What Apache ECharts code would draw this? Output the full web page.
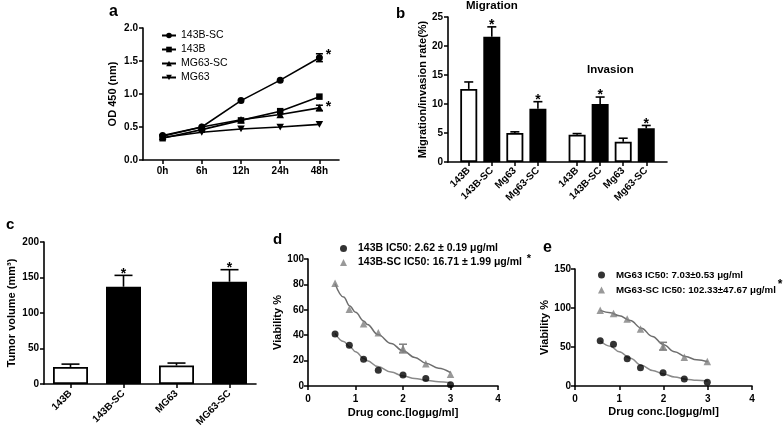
<!DOCTYPE html>
<html><head><meta charset="utf-8">
<script src="https://cdn.jsdelivr.net/npm/echarts@6/dist/echarts.min.js"></script>
<style>html,body{margin:0;padding:0;background:#fff}#c{width:784px;height:433px}</style>
</head><body><div id="c"></div>
<script>
// ---------- Panel a : proliferation (OD 450) ----------
const aTimes = ['0h', '6h', '12h', '24h', '48h'];
const aSeriesNames = ['143B-SC', '143B', 'MG63-SC', 'MG63'];
const a143BSC = [0.37, 0.50, 0.90, 1.21, 1.55];
const a143B = [0.33, 0.46, 0.60, 0.74, 0.96];
const aMG63SC = [0.36, 0.50, 0.61, 0.69, 0.79];
const aMG63 = [0.34, 0.42, 0.47, 0.50, 0.54];
const a143BSCErr = [0, 0, 0, 0, 0.06];
const aMG63SCErr = [0, 0, 0, 0, 0.04];
const a143BSCStar = [false, false, false, false, true];
const aMG63SCStar = [false, false, false, false, true];
const aYTicks = ['0.0', '0.5', '1.0', '1.5', '2.0'];

// ---------- Panel b : migration / invasion ----------
const bGroups = ['Migration', 'Invasion'];
const bCells = ['143B', '143B-SC', 'Mg63', 'Mg63-SC'];
const bMigration = [12.6, 21.6, 5.0, 9.2];
const bMigrationErr = [1.2, 1.7, 0.2, 1.2];
const bInvasion = [4.7, 10.0, 3.5, 5.8];
const bInvasionErr = [0.2, 1.2, 0.6, 0.5];
const bStar = [false, true, false, true];
const bFilled = [false, true, false, true];

// ---------- Panel c : tumor volume ----------
const cCats = ['143B', '143B-SC', 'MG63', 'MG63-SC'];
const cValues = [24, 137, 26, 144];
const cErr = [4, 16, 3.5, 17];
const cStar = [false, true, false, true];
const cFilled = [false, true, false, true];

// ---------- Panel d : 143B dose response ----------
const dLogConc = [0.57, 0.87, 1.17, 1.48, 2.0, 2.48, 3.0];
const d143B = [41, 32, 21, 12.5, 8.6, 6, 1];
const d143BSC = [81, 60.5, 49, 42, 29.5, 17.5, 9.3];
const d143BSCErr = [0, 0, 0, 0, 3.4, 0, 0];
const dFitX = [0.57, 0.75, 0.88, 1.0, 1.18, 1.25, 1.47, 1.75, 2.0, 2.25, 2.48, 2.75, 3.0];
const d143BFit = [41.4, 35, 31, 27, 21.6, 19.8, 15.3, 11, 7.9, 6, 4.5, 3.4, 2.6];
const d143BSCFit = [80.5, 70, 63, 58, 51, 48.5, 40.5, 33.5, 27.7, 22.5, 18, 14, 10.5];
const dNames = ['143B IC50: 2.62 \u00b1 0.19 \u03bcg/ml', '143B-SC IC50: 16.71 \u00b1 1.99 \u03bcg/ml'];

// ---------- Panel e : MG63 dose response ----------
const eLogConc = [0.57, 0.87, 1.18, 1.48, 1.99, 2.47, 2.99];
const eMG63 = [58, 53.5, 35, 23.5, 17, 9, 4.7];
const eMG63SC = [97, 93, 86, 73, 51, 37, 31.3];
const eMG63SCErr = [0, 0, 0, 0, 5, 0, 0];
const eFitX = [0.57, 0.8, 1.0, 1.25, 1.5, 1.75, 2.0, 2.25, 2.5, 2.75, 3.0];
const eMG63Fit = [58, 51, 44, 35.5, 26.5, 20, 15.5, 11.5, 8.8, 7.3, 6.5];
const eMG63SCFit = [97, 94, 90, 84, 74, 63.5, 53, 44, 37.7, 33.5, 31];
const eNames = ['MG63 IC50: 7.03\u00b10.53 \u03bcg/ml', 'MG63-SC IC50: 102.33\u00b147.67 \u03bcg/ml'];

// ---------- styling ----------
const FONT = '"Liberation Sans", Arial, Helvetica, sans-serif';
const BLACK = '#000';
const GRAY = '#7f7f7f';

function merge(a, b) {
  const o = Object.assign({}, a);
  for (const k in b) {
    if (b[k] && typeof b[k] === 'object' && !Array.isArray(b[k]) && a[k] && typeof a[k] === 'object') o[k] = merge(a[k], b[k]);
    else o[k] = b[k];
  }
  return o;
}
const axisBase = {
  axisLine: { show: true, onZero: false, lineStyle: { color: BLACK, width: 1.6 } },
  axisTick: { show: true, length: 4, lineStyle: { color: BLACK, width: 1.5 } },
  axisLabel: { color: BLACK, fontFamily: FONT, fontWeight: 'bold', fontSize: 10 },
  splitLine: { show: false },
  nameTextStyle: { color: BLACK, fontFamily: FONT, fontWeight: 'bold', fontSize: 11 }
};
const ax = o => merge(axisBase, o);

function errRender(opt) {
  return function (params, api) {
    const x = api.value(0), lo = api.value(1), hi = api.value(2), star = api.value(3);
    const pHi = api.coord([x, hi]);
    const pLo = api.coord([x, lo]);
    const st = { stroke: opt.color, lineWidth: opt.lw };
    const ch = [];
    if (hi > lo) {
      ch.push({ type: 'line', shape: { x1: pHi[0], y1: pHi[1], x2: pLo[0], y2: pLo[1] }, style: st });
      ch.push({ type: 'line', shape: { x1: pHi[0] - opt.cap, y1: pHi[1], x2: pHi[0] + opt.cap, y2: pHi[1] }, style: st });
      if (opt.bothCaps) ch.push({ type: 'line', shape: { x1: pLo[0] - opt.cap, y1: pLo[1], x2: pLo[0] + opt.cap, y2: pLo[1] }, style: st });
    }
    if (star) {
      ch.push({ type: 'text', x: pHi[0] + opt.starDx, y: pHi[1] + opt.starDy,
        style: { text: '*', fill: BLACK, font: 'bold 14px ' + FONT, align: 'center', verticalAlign: 'middle' } });
    }
    return { type: 'group', children: ch };
  };
}

// a: series
const aVals = [a143BSC, a143B, aMG63SC, aMG63];
const aSymbols = ['circle', 'rect', 'triangle', 'path://M0,0L10,0L5,9Z'];
const aSizes = [7, 6.5, 7.5, 7.5];
const aSeries = aVals.map((v, i) => ({
  type: 'line', name: aSeriesNames[i], xAxisIndex: 0, yAxisIndex: 0, data: v,
  symbol: aSymbols[i], symbolSize: aSizes[i], symbolKeepAspect: true, showSymbol: true,
  lineStyle: { color: BLACK, width: 1.6 }, itemStyle: { color: BLACK }, z: 3
}));
const aErrData = [];
[[a143BSC, a143BSCErr, a143BSCStar], [aMG63SC, aMG63SCErr, aMG63SCStar]].forEach(([v, e, s]) => {
  v.forEach((y, i) => { if (e[i] > 0 || s[i]) aErrData.push([i, y - e[i], y + e[i], s[i] ? 1 : 0]); });
});

// b: positions built from group / cell indices
const bGapUnits = 0.7;
const bPos = [], bVal = [], bErrData = [], bLabelOf = [];
[[bMigration, bMigrationErr], [bInvasion, bInvasionErr]].forEach(([vals, errs], g) => {
  vals.forEach((v, i) => {
    const p = g * (bCells.length + bGapUnits) + i + 1;
    bPos.push(p);
    bLabelOf.push(bCells[i]);
    bVal.push({ value: [p, v], itemStyle: { color: bFilled[i] ? BLACK : '#fff' } });
    bErrData.push([p, v, v + errs[i], bStar[i] ? 1 : 0]);
  });
});

const curveOpts = { smooth: 0.4, smoothMonotone: 'x', showSymbol: false, silent: true, z: 2 };

const option = {
  animation: false,
  backgroundColor: '#fff',
  textStyle: { fontFamily: FONT },
  grid: [
    { left: 143, top: 28, width: 196, height: 132 },
    { left: 448, top: 17, width: 219, height: 145 },
    { left: 44, top: 242, width: 212, height: 142 },
    { left: 308, top: 259, width: 190, height: 127 },
    { left: 575, top: 269, width: 177, height: 117 }
  ],
  xAxis: [
    ax({ type: 'category', gridIndex: 0, data: aTimes, boundaryGap: true,
      axisTick: { alignWithLabel: true }, axisLabel: { margin: 6 } }),
    ax({ type: 'value', gridIndex: 1, min: 0.1, max: 9.6,
      axisTick: { customValues: bPos },
      axisLabel: { customValues: bPos, rotate: 45, margin: 7,
        formatter: v => { let k = 0; bPos.forEach((p, i) => { if (Math.abs(p - v) < Math.abs(bPos[k] - v)) k = i; }); return bLabelOf[k]; } } }),
    ax({ type: 'category', gridIndex: 2, data: cCats, boundaryGap: true,
      axisTick: { alignWithLabel: true }, axisLabel: { rotate: 45, margin: 8 } }),
    ax({ type: 'value', gridIndex: 3, min: 0, max: 4, interval: 1,
      name: 'Drug conc.[log\u03bcg/ml]', nameLocation: 'middle', nameGap: 21 }),
    ax({ type: 'value', gridIndex: 4, min: 0, max: 4, interval: 1,
      name: 'Drug conc.[log\u03bcg/ml]', nameLocation: 'middle', nameGap: 20 })
  ],
  yAxis: [
    ax({ type: 'value', gridIndex: 0, min: 0, max: 2, interval: 0.5,
      axisLabel: { formatter: v => aYTicks[Math.round(v / 0.5)], margin: 5 },
      name: 'OD 450 (nm)', nameLocation: 'middle', nameGap: 25 }),
    ax({ type: 'value', gridIndex: 1, min: 0, max: 25, interval: 5, axisLabel: { margin: 5 },
      name: 'Migration/invasion rate(%)', nameLocation: 'middle', nameGap: 20 }),
    ax({ type: 'value', gridIndex: 2, min: 0, max: 200, interval: 50, axisLabel: { margin: 5 },
      name: 'Tumor volume (mm\u00b3)', nameLocation: 'middle', nameGap: 27 }),
    ax({ type: 'value', gridIndex: 3, min: 0, max: 100, interval: 20, axisLabel: { margin: 4 },
      name: 'Viability %', nameLocation: 'middle', nameGap: 22 }),
    ax({ type: 'value', gridIndex: 4, min: 0, max: 150, interval: 50, axisLabel: { margin: 4 },
      name: 'Viability %', nameLocation: 'middle', nameGap: 20 })
  ],
  legend: [
    { data: aSeriesNames, orient: 'vertical', left: 156, top: 25, itemWidth: 14, itemHeight: 7, itemGap: 3,
      textStyle: { color: BLACK, fontFamily: FONT, fontSize: 10.5 }, selectedMode: false },
    { data: dNames, orient: 'vertical', left: 335, top: 238, itemWidth: 7, itemHeight: 7, itemGap: 3,
      textStyle: { color: BLACK, fontFamily: FONT, fontSize: 10.5, fontWeight: 'bold', padding: [0, 0, 0, 6] }, selectedMode: false },
    { data: eNames, orient: 'vertical', left: 593, top: 265, itemWidth: 7, itemHeight: 7, itemGap: 5,
      textStyle: { color: BLACK, fontFamily: FONT, fontSize: 9.7, fontWeight: 'bold', padding: [0, 0, 0, 6] }, selectedMode: false }
  ],
  graphic: [
    { type: 'text', x: 109, y: 12, style: { text: 'a', font: 'bold 16px ' + FONT, fill: BLACK, verticalAlign: 'middle' } },
    { type: 'text', x: 396, y: 14, style: { text: 'b', font: 'bold 15px ' + FONT, fill: BLACK, verticalAlign: 'middle' } },
    { type: 'text', x: 6, y: 225, style: { text: 'c', font: 'bold 15px ' + FONT, fill: BLACK, verticalAlign: 'middle' } },
    { type: 'text', x: 273, y: 240, style: { text: 'd', font: 'bold 15px ' + FONT, fill: BLACK, verticalAlign: 'middle' } },
    { type: 'text', x: 543, y: 248, style: { text: 'e', font: 'bold 16px ' + FONT, fill: BLACK, verticalAlign: 'middle' } },
    { type: 'text', x: 466, y: 6, style: { text: bGroups[0], font: 'bold 11.5px ' + FONT, fill: BLACK, verticalAlign: 'middle' } },
    { type: 'text', x: 587, y: 70, style: { text: bGroups[1], font: 'bold 11.5px ' + FONT, fill: BLACK, verticalAlign: 'middle' } },
    { type: 'text', x: 529, y: 259, style: { text: '*', font: 'bold 11px ' + FONT, fill: BLACK, align: 'center', verticalAlign: 'middle' } },
    { type: 'text', x: 780, y: 285, style: { text: '*', font: 'bold 12px ' + FONT, fill: BLACK, align: 'center', verticalAlign: 'middle' } }
  ],
  series: [
    ...aSeries,
    { type: 'custom', name: 'aErr', xAxisIndex: 0, yAxisIndex: 0, data: aErrData, z: 5,
      renderItem: errRender({ color: BLACK, lw: 1.5, cap: 3.5, bothCaps: true, starDx: 9, starDy: 1.5 }) },
    { type: 'bar', name: 'bBars', xAxisIndex: 1, yAxisIndex: 1, data: bVal, barWidth: 17,
      itemStyle: { borderColor: BLACK, borderWidth: 1.8 }, z: 2 },
    { type: 'custom', name: 'bErr', xAxisIndex: 1, yAxisIndex: 1, data: bErrData, z: 5,
      renderItem: errRender({ color: BLACK, lw: 1.6, cap: 4.5, bothCaps: false, starDx: 0, starDy: -1.5 }) },
    { type: 'bar', name: 'cBars', xAxisIndex: 2, yAxisIndex: 2, barWidth: 35,
      data: cValues.map((v, i) => ({ value: v, itemStyle: { color: cFilled[i] ? BLACK : '#fff' } })),
      itemStyle: { borderColor: BLACK, borderWidth: 1.8 }, z: 2 },
    { type: 'custom', name: 'cErr', xAxisIndex: 2, yAxisIndex: 2, z: 5,
      data: cValues.map((v, i) => [i, v, v + cErr[i], cStar[i] ? 1 : 0]),
      renderItem: errRender({ color: BLACK, lw: 1.6, cap: 9, bothCaps: false, starDx: 0, starDy: -1.5 }) },
    // d
    Object.assign({ type: 'line', name: 'd143BFit', xAxisIndex: 3, yAxisIndex: 3, data: dFitX.map((x, i) => [x, d143BFit[i]]),
      lineStyle: { color: '#8a8a8a', width: 1.5 } }, curveOpts),
    Object.assign({ type: 'line', name: 'd143BSCFit', xAxisIndex: 3, yAxisIndex: 3, data: dFitX.map((x, i) => [x, d143BSCFit[i]]),
      lineStyle: { color: '#6e6e6e', width: 1.5 } }, curveOpts),
    { type: 'scatter', name: dNames[0], xAxisIndex: 3, yAxisIndex: 3, data: dLogConc.map((x, i) => [x, d143B[i]]),
      symbol: 'circle', symbolSize: 7, itemStyle: { color: BLACK }, z: 4 },
    { type: 'scatter', name: dNames[1], xAxisIndex: 3, yAxisIndex: 3, data: dLogConc.map((x, i) => [x, d143BSC[i]]),
      symbol: 'triangle', symbolSize: 7.5, itemStyle: { color: GRAY }, z: 4 },
    { type: 'custom', name: 'dErr', xAxisIndex: 3, yAxisIndex: 3, z: 5,
      data: dLogConc.map((x, i) => [x, d143BSC[i] - d143BSCErr[i], d143BSC[i] + d143BSCErr[i], 0]),
      renderItem: errRender({ color: GRAY, lw: 1.5, cap: 4, bothCaps: true, starDx: 0, starDy: 0 }) },
    // e
    Object.assign({ type: 'line', name: 'eMG63Fit', xAxisIndex: 4, yAxisIndex: 4, data: eFitX.map((x, i) => [x, eMG63Fit[i]]),
      lineStyle: { color: '#8a8a8a', width: 1.5 } }, curveOpts),
    Object.assign({ type: 'line', name: 'eMG63SCFit', xAxisIndex: 4, yAxisIndex: 4, data: eFitX.map((x, i) => [x, eMG63SCFit[i]]),
      lineStyle: { color: '#6e6e6e', width: 1.5 } }, curveOpts),
    { type: 'scatter', name: eNames[0], xAxisIndex: 4, yAxisIndex: 4, data: eLogConc.map((x, i) => [x, eMG63[i]]),
      symbol: 'circle', symbolSize: 7, itemStyle: { color: BLACK }, z: 4 },
    { type: 'scatter', name: eNames[1], xAxisIndex: 4, yAxisIndex: 4, data: eLogConc.map((x, i) => [x, eMG63SC[i]]),
      symbol: 'triangle', symbolSize: 7.5, itemStyle: { color: GRAY }, z: 4 },
    { type: 'custom', name: 'eErr', xAxisIndex: 4, yAxisIndex: 4, z: 5,
      data: eLogConc.map((x, i) => [x, eMG63SC[i] - eMG63SCErr[i], eMG63SC[i] + eMG63SCErr[i], 0]),
      renderItem: errRender({ color: GRAY, lw: 1.5, cap: 4, bothCaps: true, starDx: 0, starDy: 0 }) }
  ]
};
const chart = echarts.init(document.getElementById('c'), null, { renderer: 'canvas' });
chart.setOption(option);
</script></body></html>
